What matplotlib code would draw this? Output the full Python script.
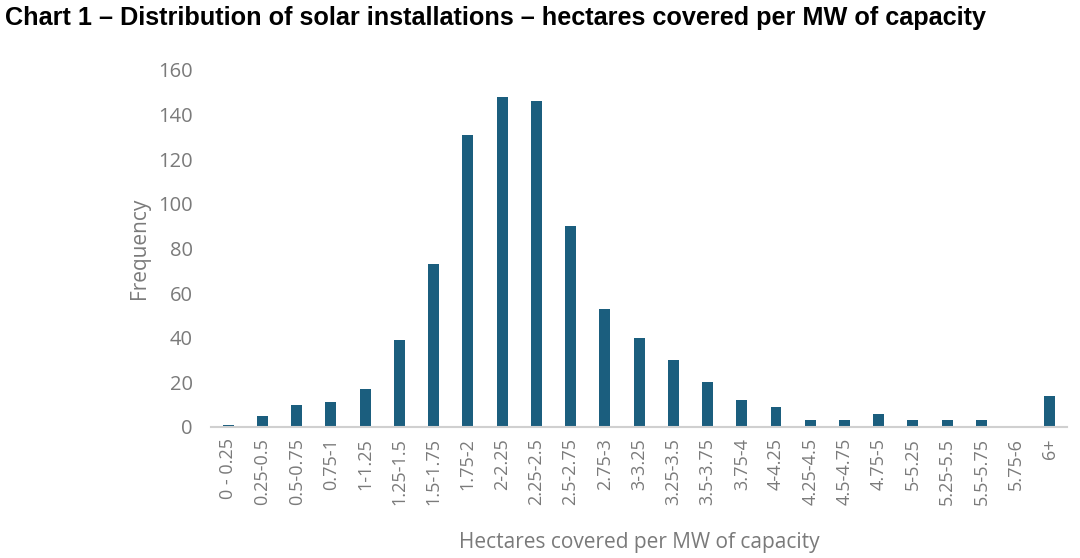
import matplotlib
matplotlib.use("Agg")
import matplotlib.pyplot as plt
import numpy as np

categories = ["0 - 0.25", "0.25-0.5", "0.5-0.75", "0.75-1", "1-1.25", "1.25-1.5",
              "1.5-1.75", "1.75-2", "2-2.25", "2.25-2.5", "2.5-2.75", "2.75-3",
              "3-3.25", "3.25-3.5", "3.5-3.75", "3.75-4", "4-4.25", "4.25-4.5",
              "4.5-4.75", "4.75-5", "5-5.25", "5.25-5.5", "5.5-5.75", "5.75-6", "6+"]
frequency = [1, 5, 10, 11, 17, 39, 73, 131, 148, 146, 90, 53, 40, 30, 20, 12, 9,
             3, 3, 6, 3, 3, 3, 0, 14]
yticks = [0, 20, 40, 60, 80, 100, 120, 140, 160]

title = "Chart 1 \u2013 Distribution of solar installations \u2013 hectares covered per MW of capacity"
bar_color = "#1b5e7e"
grey = "#7a7a7a"

plt.rcParams['font.family'] = ['Open Sans', 'DejaVu Sans']

fig = plt.figure(figsize=(10.8, 5.58), dpi=100)
ax = fig.add_axes([0.1954, 0.2348, 0.7926, 0.6398])

x = np.arange(len(categories))
ax.bar(x, frequency, width=0.32, color=bar_color)
ax.set_xlim(-0.5, len(categories) - 0.5)
ax.set_ylim(0, 160)
ax.set_yticks(yticks)
ax.set_xticks(x)
ax.set_xticklabels(categories, rotation=90, fontsize=13, color=grey)
ax.tick_params(axis='y', labelsize=14.5, labelcolor=grey, length=0, pad=13)
ax.tick_params(axis='x', length=0, pad=8)
for s in ['top', 'right', 'left']:
    ax.spines[s].set_visible(False)
ax.spines['bottom'].set_color('#d0d0d0')
ax.spines['bottom'].set_linewidth(1.5)

ax.set_ylabel("Frequency", fontsize=15, color=grey, labelpad=6)
ax.set_xlabel("Hectares covered per MW of capacity", fontsize=15, color=grey, labelpad=19)

fig.text(0.005, 0.967, title, fontsize=18.2, fontweight='bold', color='black',
         ha='left', va='center', family=['Liberation Sans', 'DejaVu Sans'])

fig.savefig("out.png", dpi=100)
